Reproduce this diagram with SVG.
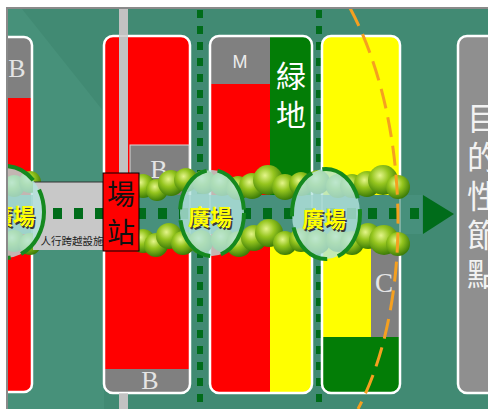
<svg xmlns="http://www.w3.org/2000/svg" width="488" height="409" viewBox="0 0 488 409">
  <style>
    .edge{fill:none;stroke:#ffffff;stroke-width:2.5}
    .ghost{fill:none;stroke:#ffffff;stroke-width:2;stroke-opacity:0.3}
    .ser{font-family:"Liberation Serif",serif;fill:#e4e4e4;text-anchor:middle}
    .cjk{font-family:"Noto Sans CJK TC","Noto Sans CJK JP",sans-serif}
    .vert{writing-mode:vertical-rl}
    .red{fill:#ff0000}
    .yel{fill:#ffff00}
    .grn{fill:#037d06}
    .gry{fill:#808080}
    .sq{fill:#006c1a}
    .tree{fill:url(#leaf)}
    .plaza{fill:#b4e3df;fill-opacity:0.8}
    .ring{fill:none;stroke:#15891f;stroke-width:4;stroke-dasharray:50 11}
    .pz{font-size:22px;font-weight:700;text-anchor:middle}
    .pz-s{fill:#3a3a3a}
    .pz-t{fill:#ffff00}
  </style>
  <defs>
    <radialGradient id="leaf" cx="40%" cy="35%" r="65%">
      <stop offset="0" stop-color="#e4f58a"/>
      <stop offset="0.45" stop-color="#95c51e"/>
      <stop offset="1" stop-color="#3d7d08"/>
    </radialGradient>
    <clipPath id="frame"><rect x="8" y="9" width="480" height="400"/></clipPath>
    <clipPath id="c1"><rect x="-20" y="37" width="52" height="355" rx="8"/></clipPath>
    <clipPath id="c2"><rect x="104" y="36" width="86" height="357" rx="9"/></clipPath>
    <clipPath id="c3"><rect x="210" y="36" width="102" height="357" rx="9"/></clipPath>
    <clipPath id="c4"><rect x="322" y="36" width="78" height="357" rx="9"/></clipPath>
    <pattern id="vdots" x="0" y="10" width="6" height="16" patternUnits="userSpaceOnUse">
      <rect width="6" height="8" fill="#006c1a"/>
    </pattern>
    <pattern id="hdots" x="11" y="208" width="21" height="11" patternUnits="userSpaceOnUse">
      <rect width="9" height="11" fill="#006c1a"/>
    </pattern>
  </defs>

  <!-- page and frame -->
  <rect width="488" height="409" fill="#ffffff"/>
  <rect x="6" y="7" width="482" height="402" fill="#8a8a8a"/>
  <g clip-path="url(#frame)">
    <rect x="8" y="9" width="480" height="400" fill="#418a73"/>
    <polygon points="8,9 22,9 104,112 104,409 8,409" fill="#4c9780" fill-opacity="0.55"/>

    <!-- walkway spines -->
    <rect x="197" y="9" width="6" height="400" fill="url(#vdots)"/>
    <rect x="316" y="9" width="6" height="400" fill="url(#vdots)"/>

    <!-- block A (left edge) -->
    <g id="block-a">
      <g clip-path="url(#c1)">
        <rect x="-20" y="37" width="52" height="61" class="gry"/>
        <rect x="-20" y="98" width="52" height="294" class="red"/>
      </g>
      <rect x="-20" y="37" width="52" height="355" rx="8" class="edge"/>
      <text x="17" y="77" class="ser" font-size="26">B</text>
    </g>

    <!-- block B (station block) -->
    <g id="block-b">
      <g clip-path="url(#c2)">
        <rect x="104" y="36" width="86" height="357" class="red"/>
        <rect x="104" y="369" width="86" height="24" class="gry"/>
      </g>
      <rect x="104" y="36" width="86" height="357" rx="9" class="edge"/>
      <rect x="130" y="145" width="59" height="52" class="gry" stroke="#d8d8d8" stroke-width="1"/>
      <text x="159" y="178" class="ser" font-size="26">B</text>
      <text x="150" y="389" class="ser" font-size="26">B</text>
    </g>

    <!-- road crossing -->
    <g id="road">
      <rect x="119" y="9" width="9" height="164" fill="#c2c2c2"/>
      <rect x="119" y="393" width="9" height="16" fill="#c2c2c2"/>
    </g>

    <!-- block C (mixed use + green) -->
    <g id="block-c">
      <g clip-path="url(#c3)">
        <rect x="210" y="36" width="60" height="48" class="gry"/>
        <rect x="210" y="84" width="60" height="309" class="red"/>
        <rect x="270" y="36" width="42" height="201" class="grn"/>
        <rect x="270" y="237" width="42" height="156" class="yel"/>
      </g>
      <rect x="210" y="36" width="102" height="357" rx="9" class="edge"/>
      <text x="240" y="68" font-family="Liberation Sans, sans-serif" font-size="18" fill="#ececec" text-anchor="middle">M</text>
      <text x="291" y="61" class="cjk vert" font-size="30" fill="#ffffff" letter-spacing="9">緑地</text>
    </g>

    <!-- block D (residential) -->
    <g id="block-d">
      <g clip-path="url(#c4)">
        <rect x="322" y="36" width="78" height="357" class="yel"/>
        <rect x="371" y="245" width="29" height="92" class="gry"/>
        <rect x="322" y="337" width="78" height="56" class="grn"/>
      </g>
      <rect x="322" y="36" width="78" height="357" rx="9" class="edge"/>
      <text x="384" y="292" class="ser" font-size="27">C</text>
    </g>

    <!-- destination node: one vertical column of text -->
    <g id="destination">
      <rect x="458" y="36" width="60" height="357" rx="9" fill="#8f8f8f" stroke="#ffffff" stroke-width="2.5"/>
      <text x="483" y="102" class="cjk vert" font-size="32" fill="#f2f2f2" letter-spacing="7">目的性節點</text>
    </g>

    <!-- corridor band through the blocks -->
    <g id="connectors">
      <rect x="8" y="195" width="414" height="39" fill="#47907c"/>
      <rect x="-20" y="37" width="52" height="355" rx="8" class="ghost"/>
      <rect x="104" y="36" width="86" height="357" rx="9" class="ghost"/>
      <rect x="210" y="36" width="102" height="357" rx="9" class="ghost"/>
      <rect x="322" y="36" width="78" height="357" rx="9" class="ghost"/>

      <!-- street trees -->
      <g id="trees">
        <circle cx="14" cy="186" r="11" class="tree"/>
        <circle cx="30" cy="182" r="11" class="tree"/>
        <circle cx="14" cy="241" r="11" class="tree"/>
        <circle cx="30" cy="244" r="11" class="tree"/>
        <circle cx="143" cy="186" r="12" class="tree"/>
        <circle cx="157" cy="190" r="11" class="tree"/>
        <circle cx="171" cy="183" r="13" class="tree"/>
        <circle cx="186" cy="180" r="12" class="tree"/>
        <circle cx="204" cy="182" r="12" class="tree"/>
        <circle cx="222" cy="184" r="12" class="tree"/>
        <circle cx="238" cy="188" r="12" class="tree"/>
        <circle cx="252" cy="186" r="13" class="tree"/>
        <circle cx="268" cy="180" r="15" class="tree"/>
        <circle cx="285" cy="187" r="13" class="tree"/>
        <circle cx="301" cy="184" r="12" class="tree"/>
        <circle cx="318" cy="182" r="12" class="tree"/>
        <circle cx="338" cy="186" r="12" class="tree"/>
        <circle cx="352" cy="186" r="12" class="tree"/>
        <circle cx="367" cy="184" r="13" class="tree"/>
        <circle cx="383" cy="180" r="15" class="tree"/>
        <circle cx="398" cy="187" r="12" class="tree"/>

        <circle cx="143" cy="241" r="12" class="tree"/>
        <circle cx="156" cy="245" r="12" class="tree"/>
        <circle cx="169" cy="236" r="13" class="tree"/>
        <circle cx="183" cy="243" r="12" class="tree"/>
        <circle cx="201" cy="242" r="12" class="tree"/>
        <circle cx="223" cy="240" r="12" class="tree"/>
        <circle cx="239" cy="244" r="13" class="tree"/>
        <circle cx="254" cy="238" r="13" class="tree"/>
        <circle cx="269" cy="233" r="14" class="tree"/>
        <circle cx="285" cy="243" r="12" class="tree"/>
        <circle cx="301" cy="240" r="12" class="tree"/>
        <circle cx="318" cy="242" r="12" class="tree"/>
        <circle cx="338" cy="240" r="12" class="tree"/>
        <circle cx="352" cy="243" r="12" class="tree"/>
        <circle cx="368" cy="236" r="13" class="tree"/>
        <circle cx="384" cy="240" r="15" class="tree"/>
        <circle cx="398" cy="244" r="12" class="tree"/>
      </g>

      <!-- pedestrian line and arrow -->
      <rect x="11" y="208" width="408" height="11" fill="url(#hdots)"/>
      <polygon points="423,195 454,214 423,234" fill="#006c1a"/>
    </g>

    <!-- pedestrian overpass -->
    <g id="overpass">
      <rect x="33" y="182" width="71" height="68" fill="#c8c8c8"/>
      <line x1="33" y1="182" x2="104" y2="182" stroke="#333" stroke-width="1"/>
      <rect x="53" y="208" width="9" height="11" class="sq"/>
      <rect x="74" y="208" width="9" height="11" class="sq"/>
      <rect x="95" y="208" width="9" height="11" class="sq"/>
      <text x="72" y="245" class="cjk" font-size="10.5" fill="#222" text-anchor="middle">人行跨越設施</text>
    </g>

    <!-- station -->
    <g id="station">
      <rect x="103" y="173" width="36" height="78" fill="#ff0000" stroke="#000" stroke-width="1"/>
      <text x="121" y="180" class="cjk vert" font-size="28" fill="#111" letter-spacing="10">場站</text>
    </g>

    <!-- plazas -->
    <g id="plaza-1">
      <ellipse cx="5" cy="212" rx="39" ry="46" class="plaza"/>
      <ellipse cx="5" cy="212" rx="39" ry="46" class="ring"/>
      <text x="14.5" y="225.5" class="cjk pz pz-s">廣場</text>
      <text x="13" y="224" class="cjk pz pz-t">廣場</text>
    </g>
    <g id="plaza-2">
      <ellipse cx="212" cy="213" rx="32" ry="43" class="plaza"/>
      <ellipse cx="212" cy="213" rx="32" ry="43" class="ring"/>
      <text x="211.5" y="226.5" class="cjk pz pz-s">廣場</text>
      <text x="210" y="225" class="cjk pz pz-t">廣場</text>
    </g>
    <g id="plaza-3">
      <ellipse cx="326" cy="214" rx="34" ry="45" class="plaza"/>
      <ellipse cx="326" cy="214" rx="34" ry="45" class="ring"/>
      <text x="325.5" y="228.5" class="cjk pz pz-s">廣場</text>
      <text x="324" y="227" class="cjk pz pz-t">廣場</text>
    </g>

    <!-- walking catchment boundary -->
    <path id="catchment" d="M350,8 C410,120 415,300 358,409" fill="none" stroke="#f5a020" stroke-width="3" stroke-dasharray="20 9"/>
  </g>
</svg>
